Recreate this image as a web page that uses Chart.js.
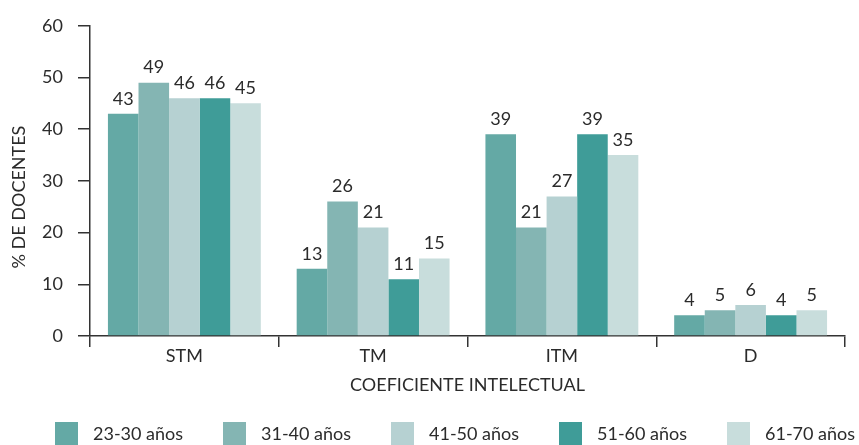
<!DOCTYPE html>
<html>
<head>
<meta charset="utf-8">
<script src="https://cdn.jsdelivr.net/npm/chart.js@4/dist/chart.umd.min.js"></script>
<style>
  html, body { margin: 0; padding: 0; background: #ffffff; }
  #wrap { width: 859px; height: 445px; position: relative; }
</style>
</head>
<body>
<div id="wrap"><canvas id="chart"></canvas></div>
<script>
// Coeficiente intelectual por grupo de edad (% de docentes)
const categories = ['STM', 'TM', 'ITM', 'D'];
const seriesNames = ['23-30 años', '31-40 años', '41-50 años', '51-60 años', '61-70 años'];
const age23_30 = [43, 13, 39, 4];
const age31_40 = [49, 26, 21, 5];
const age41_50 = [46, 21, 27, 6];
const age51_60 = [46, 11, 39, 4];
const age61_70 = [45, 15, 35, 5];
const yTicks = [0, 10, 20, 30, 40, 50, 60];

const seriesValues = [age23_30, age31_40, age41_50, age51_60, age61_70];
const seriesColors = ['#64a9a5', '#84b5b3', '#b6d1d2', '#3f9c98', '#c8dddc'];

const FONT = 'Lato, "Open Sans", sans-serif';
const FS = 18;
const TEXT = '#2b2b2b';

// Value labels above each bar
const valueLabels = {
  id: 'valueLabels',
  afterDatasetsDraw(chart) {
    const ctx = chart.ctx;
    ctx.save();
    ctx.font = FS + 'px ' + FONT;
    ctx.fillStyle = TEXT;
    ctx.textAlign = 'center';
    ctx.textBaseline = 'bottom';
    chart.data.datasets.forEach((ds, i) => {
      chart.getDatasetMeta(i).data.forEach((bar, j) => {
        ctx.fillText(String(ds.data[j]), bar.x, bar.y - 6);
      });
    });
    ctx.restore();
  }
};

// Single-row legend along the bottom edge, one swatch per dataset
const bottomLegend = {
  id: 'bottomLegend',
  afterDraw(chart, args, opts) {
    const ctx = chart.ctx;
    ctx.save();
    ctx.font = FS + 'px ' + FONT;
    ctx.textAlign = 'left';
    ctx.textBaseline = 'middle';
    chart.data.datasets.forEach((ds, i) => {
      const x = opts.startX + i * opts.step;
      ctx.fillStyle = ds.backgroundColor;
      ctx.fillRect(x, opts.top, opts.box, opts.box);
      ctx.fillStyle = TEXT;
      ctx.fillText(ds.label, x + opts.box + opts.gap, opts.top + opts.box / 2 + 1);
    });
    ctx.restore();
  }
};

new Chart(document.getElementById('chart'), {
  type: 'bar',
  data: {
    labels: categories,
    datasets: seriesNames.map((name, i) => ({
      label: name,
      data: seriesValues[i],
      backgroundColor: seriesColors[i],
      borderWidth: 0,
      categoryPercentage: 0.81,
      barPercentage: 1.0
    }))
  },
  options: {
    responsive: true,
    maintainAspectRatio: false,
    animation: false,
    layout: { padding: { top: 12, right: 14, left: 0, bottom: 61 } },
    plugins: {
      tooltip: { enabled: false },
      legend: { display: false },
      bottomLegend: { startX: 55, step: 168, top: 422, box: 23, gap: 15 }
    },
    scales: {
      x: {
        afterFit(scale) { scale.height = 48; },
        grid: {
          display: true,
          drawOnChartArea: false,
          drawTicks: true,
          tickLength: 11,
          color: '#333333',
          lineWidth: 1.5
        },
        border: { display: true, color: '#333333', width: 1.5 },
        ticks: { font: { family: FONT, size: FS }, color: TEXT, padding: -2 },
        title: {
          display: true,
          text: 'COEFICIENTE INTELECTUAL',
          font: { family: FONT, size: FS },
          color: TEXT,
          padding: { top: 0, bottom: -12 }
        }
      },
      y: {
        min: 0,
        max: 60,
        afterFit(scale) { scale.width = 90; },
        afterBuildTicks(scale) { scale.ticks = yTicks.map(v => ({ value: v })); },
        grid: {
          display: true,
          drawOnChartArea: false,
          drawTicks: true,
          tickLength: 12,
          color: '#333333',
          lineWidth: 1.5
        },
        border: { display: true, color: '#333333', width: 1.5 },
        ticks: { font: { family: FONT, size: FS }, color: TEXT, padding: 15 },
        title: {
          display: true,
          text: '% DE DOCENTES       ',
          font: { family: FONT, size: FS },
          color: TEXT,
          padding: { top: 8, bottom: 0 }
        }
      }
    }
  },
  plugins: [valueLabels, bottomLegend]
});
</script>
</body>
</html>
